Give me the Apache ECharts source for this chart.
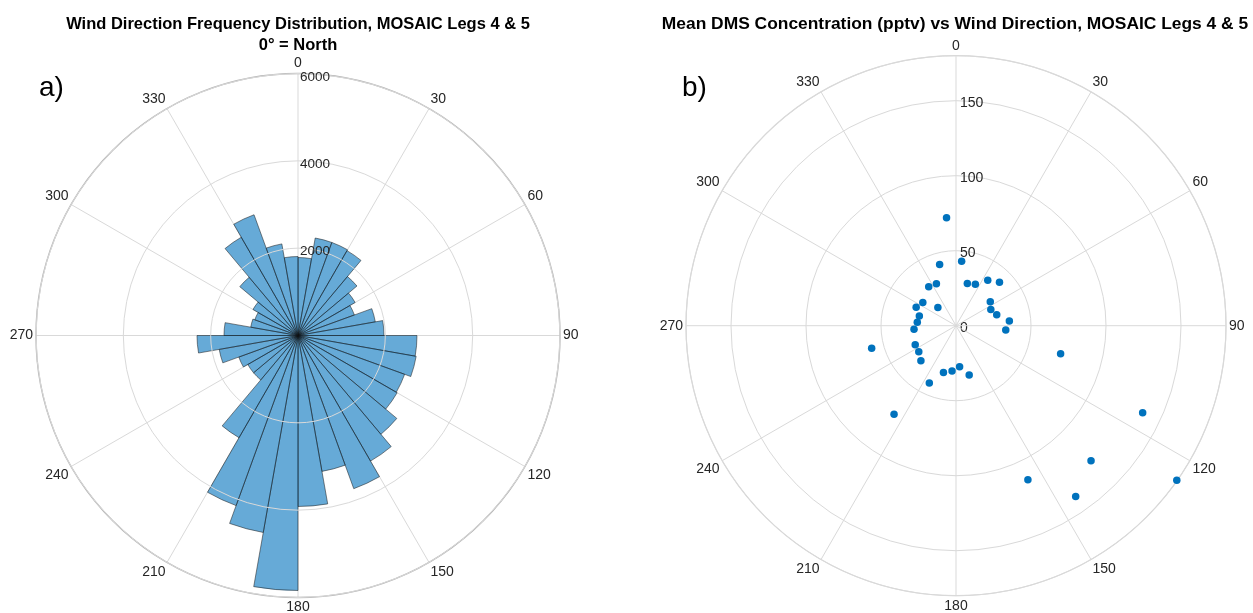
<!DOCTYPE html>
<html>
<head>
<meta charset="utf-8">
<script src="https://cdn.jsdelivr.net/npm/echarts@6/dist/echarts.min.js"></script>
<style>
html,body{margin:0;padding:0;background:#fff;}
#chart{width:1253px;height:613px;}
</style>
</head>
<body>
<div id="chart"></div>
<script>
// ---- Data ----
// Wind direction bins (10° wide, clockwise from North)
const binLabels = ['0-10','10-20','20-30','30-40','40-50','50-60','60-70','70-80','80-90',
  '90-100','100-110','110-120','120-130','130-140','140-150','150-160','160-170','170-180',
  '180-190','190-200','200-210','210-220','220-230','230-240','240-250','250-260','260-270',
  '270-280','280-290','290-300','300-310','310-320','320-330','330-340','340-350','350-360'];
const windCounts = [1786, 2267, 2267, 2244, 1763, 1511, 1374, 1798, 1969,
  2725, 2748, 2599, 2622, 2954, 3321, 3733, 3160, 3916,
  5840, 4580, 4145, 2702, 1328, 1328, 1443, 1832, 2313,
  1695, 1099, 1053, 1191, 1740, 2599, 2943, 2130, 1809];

// Mean DMS concentration by wind direction (bin centres)
const dmsAngles = [5,15,25,35,45,55,65,75,85,95,105,115,125,135,145,155,165,175,
  185,195,205,215,225,235,245,255,265,275,285,295,305,315,325,335,345,355];
const dmsValues = [43.1, 29.2, 30.5, 36.9, 41.0, 27.9, 25.6, 28.1, 35.7, 33.3, 72.2, 137.3,
  179.7, 127.3, 139.1, 113.4, 34.0, 27.4, 30.3, 32.3, 42.1, 72.0, 33.1, 30.3,
  30.0, 58.2, 28.1, 25.9, 25.3, 29.3, 27.0, 17.1, 31.7, 30.9, 42.2, 72.3];

const leftTicksMax = 6000, leftTickStep = 2000;
const rightMax = 180, rightTickStep = 50;
const angleTickStep = 30;

// ---- Chart ----
const chart = echarts.init(document.getElementById('chart'), null, {renderer: 'canvas'});
const FONT = '"Liberation Sans", Arial, Helvetica, sans-serif';
const gridColor = '#d9d9d9';
const labelColor = '#262626';

function angleAxisDisplay(polarIndex, outerColor, outerWidth) {
  return {
    polarIndex: polarIndex, type: 'value', min: 0, max: 360, interval: angleTickStep,
    startAngle: 90, clockwise: true,
    axisLine: {show: true, lineStyle: {color: outerColor, width: outerWidth}},
    axisTick: {show: false},
    axisLabel: {show: true, margin: 3, color: labelColor, fontSize: 14, fontFamily: FONT,
      formatter: v => (v >= 360 ? '' : String(v))},
    splitLine: {show: true, lineStyle: {color: gridColor, width: 1}},
    z: 1
  };
}

const option = {
  animation: false,
  backgroundColor: '#fff',
  title: [
    {text: 'Wind Direction Frequency Distribution, MOSAIC Legs 4 & 5\n0° = North',
     left: 293, top: 9, textAlign: 'center',
     textStyle: {fontFamily: FONT, fontSize: 16.5, fontWeight: 'bold', color: '#000', lineHeight: 21}},
    {text: 'Mean DMS Concentration (pptv) vs Wind Direction, MOSAIC Legs 4 & 5',
     left: 950, top: 9, textAlign: 'center',
     textStyle: {fontFamily: FONT, fontSize: 17.4, fontWeight: 'bold', color: '#000', lineHeight: 21}}
  ],
  graphic: [
    {type: 'text', left: 39, top: 74, style: {text: 'a)', font: '28px ' + FONT, fill: '#000'}},
    {type: 'text', left: 682, top: 74, style: {text: 'b)', font: '28px ' + FONT, fill: '#000'}}
  ],
  polar: [
    {center: [298, 335.5], radius: 262},
    {center: [298, 335.5], radius: 262},
    {center: [956, 325.7], radius: 270}
  ],
  angleAxis: [
    angleAxisDisplay(0, '#b4b4b4', 1.4),
    {polarIndex: 1, type: 'category', data: binLabels, startAngle: 90, clockwise: true,
     boundaryGap: true,
     axisLine: {show: false}, axisTick: {show: false}, axisLabel: {show: false},
     splitLine: {show: false}, z: 2},
    angleAxisDisplay(2, '#d9d9d9', 1.2)
  ],
  radiusAxis: [
    {polarIndex: 0, type: 'value', min: 0, max: leftTicksMax, interval: leftTickStep,
     axisLine: {show: false}, axisTick: {show: false},
     axisLabel: {show: true, color: labelColor, fontSize: 13.5, fontFamily: FONT,
       margin: -2, align: 'left', verticalAlign: 'middle',
       formatter: v => (v === 0 ? '' : '{a|' + v + '}'),
       rich: {a: {fontSize: 13.5, fontFamily: FONT, color: labelColor, padding: [7, 0, 0, 0]}}},
     splitLine: {show: true, lineStyle: {color: gridColor, width: 1}}, z: 5},
    {polarIndex: 1, type: 'value', min: 0, max: leftTicksMax,
     axisLine: {show: false}, axisTick: {show: false}, axisLabel: {show: false},
     splitLine: {show: false}},
    {polarIndex: 2, type: 'value', min: 0, max: rightMax, interval: rightTickStep,
     axisLine: {show: false}, axisTick: {show: false},
     axisLabel: {show: true, color: labelColor, fontSize: 14, fontFamily: FONT,
       margin: -4, align: 'left', verticalAlign: 'middle',
       formatter: v => (v > 150 ? '' : '{a|' + v + '}'),
       rich: {a: {fontSize: 14, fontFamily: FONT, color: labelColor, padding: [4, 0, 0, 0]}}},
     splitLine: {show: true, lineStyle: {color: gridColor, width: 1}}}
  ],
  series: [
    {type: 'bar', coordinateSystem: 'polar', polarIndex: 1, data: windCounts.slice(),
     barCategoryGap: '0%', barGap: '0%',
     itemStyle: {color: 'rgba(0,114,189,0.6)', borderColor: 'rgba(20,20,20,0.85)', borderWidth: 0.6},
     z: 3},
    {type: 'scatter', coordinateSystem: 'polar', polarIndex: 2,
     data: dmsValues.map((v, i) => [v, dmsAngles[i]]),
     symbol: 'circle', symbolSize: 7.5,
     itemStyle: {color: '#0072BD', opacity: 1}, z: 3}
  ]
};
chart.setOption(option);
</script>
</body>
</html>
